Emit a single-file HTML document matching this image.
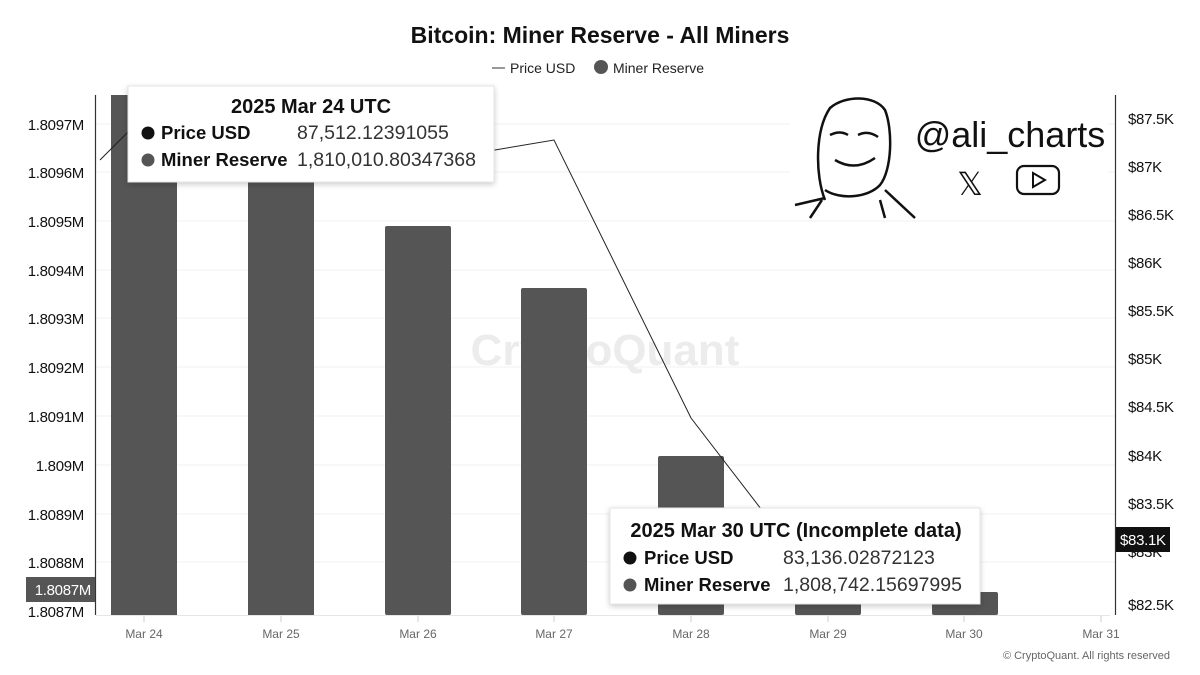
<!DOCTYPE html>
<html><head><meta charset="utf-8"><style>
html,body{margin:0;padding:0;background:#fff;}
svg{display:block;font-family:"Liberation Sans",sans-serif;}
</style></head><body>
<svg width="1200" height="675" viewBox="0 0 1200 675" xmlns="http://www.w3.org/2000/svg">
<rect width="1200" height="675" fill="#fff"/>
<text x="600" y="43" text-anchor="middle" font-size="23" font-weight="bold" fill="#111">Bitcoin: Miner Reserve - All Miners</text>
<line x1="492" y1="68" x2="505" y2="68" stroke="#333" stroke-width="1"/>
<text x="510" y="73" font-size="14" fill="#222">Price USD</text>
<circle cx="601" cy="67" r="7" fill="#555"/>
<text x="613" y="73" font-size="14" fill="#222">Miner Reserve</text>
<g stroke="#f0f0f0" stroke-width="1">
<line x1="96" y1="124" x2="1115" y2="124"/><line x1="96" y1="172" x2="1115" y2="172"/>
<line x1="96" y1="221" x2="1115" y2="221"/><line x1="96" y1="270" x2="1115" y2="270"/>
<line x1="96" y1="318" x2="1115" y2="318"/><line x1="96" y1="367" x2="1115" y2="367"/>
<line x1="96" y1="416" x2="1115" y2="416"/><line x1="96" y1="465" x2="1115" y2="465"/>
<line x1="96" y1="514" x2="1115" y2="514"/><line x1="96" y1="562" x2="1115" y2="562"/>
</g>
<text x="605" y="365" text-anchor="middle" font-size="44" font-weight="bold" fill="#ececec">CryptoQuant</text>
<g fill="#555">
<rect x="111" y="95" width="66" height="520"/>
<rect x="248" y="95" width="66" height="520"/>
<rect x="385" y="226" width="66" height="389" rx="2"/>
<rect x="521" y="288" width="66" height="327" rx="2"/>
<rect x="658" y="456" width="66" height="159" rx="2"/>
<rect x="795" y="560" width="66" height="55" rx="2"/>
<rect x="932" y="592" width="66" height="23" rx="2"/>
</g>
<polyline points="100,160 144,116 418,163 554,140 691,418 828,596 964,541" fill="none" stroke="#222" stroke-width="1"/>
<line x1="95.5" y1="95" x2="95.5" y2="615" stroke="#333" stroke-width="1.2"/>
<line x1="1115.5" y1="95" x2="1115.5" y2="615" stroke="#333" stroke-width="1.2"/>
<line x1="96" y1="615.5" x2="1110" y2="615.5" stroke="#e6e6e6"/>
<g stroke="#ccc"><line x1="144" y1="616" x2="144" y2="622"/><line x1="281" y1="616" x2="281" y2="622"/><line x1="418" y1="616" x2="418" y2="622"/><line x1="554" y1="616" x2="554" y2="622"/><line x1="691" y1="616" x2="691" y2="622"/><line x1="828" y1="616" x2="828" y2="622"/><line x1="964" y1="616" x2="964" y2="622"/><line x1="1101" y1="616" x2="1101" y2="622"/></g>
<g font-size="12" fill="#666" text-anchor="middle">
<text x="144" y="638">Mar 24</text><text x="281" y="638">Mar 25</text><text x="418" y="638">Mar 26</text><text x="554" y="638">Mar 27</text><text x="691" y="638">Mar 28</text><text x="828" y="638">Mar 29</text><text x="964" y="638">Mar 30</text><text x="1101" y="638">Mar 31</text>
</g>
<g font-size="15" fill="#111" text-anchor="end" letter-spacing="-0.3">
<text x="84" y="130">1.8097M</text><text x="84" y="178">1.8096M</text><text x="84" y="227">1.8095M</text><text x="84" y="276">1.8094M</text><text x="84" y="324">1.8093M</text><text x="84" y="373">1.8092M</text><text x="84" y="422">1.8091M</text><text x="84" y="471">1.809M</text><text x="84" y="520">1.8089M</text><text x="84" y="568">1.8088M</text><text x="84" y="617">1.8087M</text>
</g>
<rect x="26" y="577" width="69" height="25" fill="#555"/>
<text x="91" y="595" text-anchor="end" font-size="15" fill="#fff" letter-spacing="-0.3">1.8087M</text>
<g font-size="15" fill="#111" letter-spacing="-0.3">
<text x="1128" y="124">$87.5K</text><text x="1128" y="172">$87K</text><text x="1128" y="220">$86.5K</text><text x="1128" y="268">$86K</text><text x="1128" y="316">$85.5K</text><text x="1128" y="364">$85K</text><text x="1128" y="412">$84.5K</text><text x="1128" y="461">$84K</text><text x="1128" y="509">$83.5K</text><text x="1128" y="557">$83K</text><text x="1128" y="610">$82.5K</text>
</g>
<rect x="1116" y="527" width="54" height="25" fill="#111"/>
<text x="1120" y="545" font-size="15" fill="#fff" letter-spacing="-0.3">$83.1K</text>
<rect x="790" y="95" width="318" height="125" fill="#fff"/>
<g fill="none" stroke="#111" stroke-width="2.5">
<path d="M825,200 C815,175 815,130 830,108 C845,95 875,95 885,110 C893,130 892,170 880,185 C868,198 840,200 825,190"/>
<path d="M830,135 Q840,130 848,135 M858,135 Q868,130 878,137"/>
<path d="M835,160 Q855,172 875,158"/>
<path d="M795,205 L825,198 M885,190 L915,218 M810,218 L822,200 M880,200 L885,218"/>
</g>
<text x="1010" y="147" text-anchor="middle" font-size="36" fill="#111">@ali_charts</text>
<text x="970" y="195" text-anchor="middle" font-size="32" fill="#111">𝕏</text>
<rect x="1017" y="166" width="42" height="28" rx="7" fill="none" stroke="#111" stroke-width="2.2"/>
<path d="M1033,173 L1045,180 L1033,187 Z" fill="none" stroke="#111" stroke-width="2"/>
<rect x="128" y="86" width="366" height="96" fill="#fff" stroke="#e6e6e6" style="filter:drop-shadow(0 2px 3px rgba(0,0,0,0.2))"/>
<text x="311" y="113" text-anchor="middle" font-size="20" font-weight="bold" fill="#111">2025 Mar 24 UTC</text>
<circle cx="148" cy="133" r="6.5" fill="#111"/>
<text x="161" y="139" font-size="18.5" font-weight="bold" fill="#111">Price USD</text>
<text x="297" y="139" font-size="19.5" fill="#333">87,512.12391055</text>
<circle cx="148" cy="160" r="6.5" fill="#555"/>
<text x="161" y="166" font-size="18.5" font-weight="bold" fill="#111">Miner Reserve</text>
<text x="297" y="166" font-size="19.5" fill="#333">1,810,010.80347368</text>
<rect x="610" y="508" width="370" height="96" fill="#fff" stroke="#e6e6e6" style="filter:drop-shadow(0 2px 3px rgba(0,0,0,0.2))"/>
<text x="796" y="537" text-anchor="middle" font-size="20" font-weight="bold" fill="#111">2025 Mar 30 UTC (Incomplete data)</text>
<circle cx="630" cy="558" r="6.5" fill="#111"/>
<text x="644" y="564" font-size="18.5" font-weight="bold" fill="#111">Price USD</text>
<text x="783" y="564" font-size="19.5" fill="#333">83,136.02872123</text>
<circle cx="630" cy="585" r="6.5" fill="#555"/>
<text x="644" y="591" font-size="18.5" font-weight="bold" fill="#111">Miner Reserve</text>
<text x="783" y="591" font-size="19.5" fill="#333">1,808,742.15697995</text>
<text x="1170" y="659" text-anchor="end" font-size="11" fill="#666">© CryptoQuant. All rights reserved</text>
</svg>
</body></html>
